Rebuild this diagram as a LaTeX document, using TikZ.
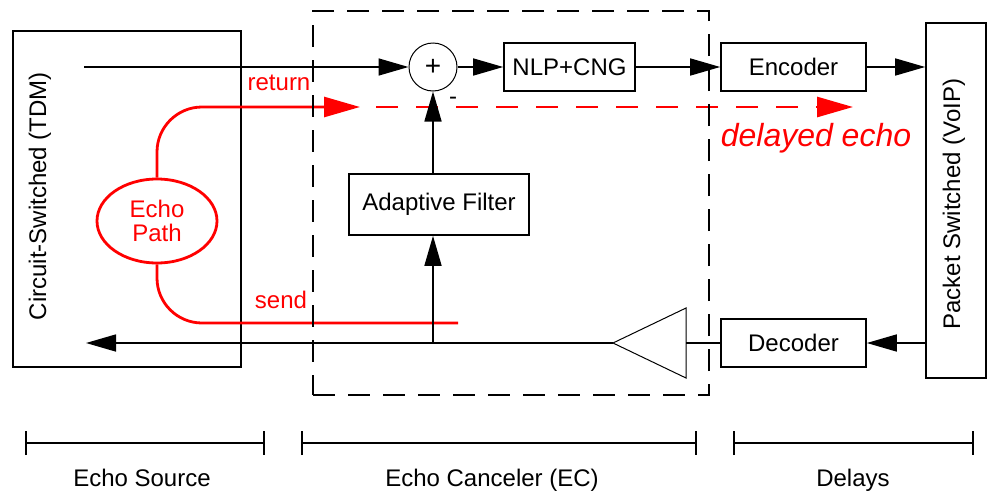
\documentclass[tikz,border=0pt]{standalone}
\usepackage{fontspec}
\setmainfont{Liberation Sans}
\usetikzlibrary{arrows.meta,shapes.geometric}

\tikzset{
  blk/.style={draw,line width=.8pt,inner sep=0pt},
  sig/.style={line width=.8pt},
  arr/.style={sig,-{Triangle[length=15pt,width=8.5pt]}},
  echo/.style={red,line width=1.4pt},
  lbl/.style={font=\fontsize{12}{12}\selectfont}
}

\begin{document}
\begin{tikzpicture}[x=.5pt,y=-.5pt,lbl]
\useasboundingbox (0,0) rectangle (991,493);
% the two networks
\node[blk,minimum width=114pt,minimum height=168pt] (src) at (127,199) {};
\node[rotate=90] (srctxt) at (40,196) {Circuit-Switched (TDM)};
\node[blk,minimum width=30pt,minimum height=177.5pt] (pkt) at (956,200.5) {};
\node[rotate=90] (pkttxt) at (954,204) {Packet Switched (VoIP)};
% echo
\node[draw,echo,ellipse,minimum width=60pt,minimum height=42pt,inner sep=0pt,align=center,text=red] (echo) at (157,221) {Echo\\Path};
\coordinate (ret) at (360,107);
\coordinate (late) at (853,107);
\coordinate (send) at (458,323);
\draw[echo,rounded corners=22.5pt,-{Triangle[length=18pt,width=10pt]}] (echo.north) |- (ret);
\draw[echo,dash pattern=on 11pt off 9pt,-{Triangle[length=18pt,width=10pt]}] ([xshift=8pt]ret) -- (late);
\draw[echo,rounded corners=22.5pt] (echo.south) |- (send);
\node[text=red] (rettxt) at (279,83) {return};
\node[text=red] (sendtxt) at (281,300) {send};
\node[text=red,font=\fontsize{16}{16}\selectfont\itshape] (latetxt) at (816,138) {delayed echo};
% echo canceler
\node[draw,sig,dash pattern=on 11pt off 6.5pt,minimum width=198pt,minimum height=192pt] (ec) at (511,203) {};
\node[draw,circle,line width=.5pt,minimum size=24pt,inner sep=0pt,font=\fontsize{14}{14}\selectfont] (sum) at (433,67) {+};
\node (minus) at (453,101) {-};
\node[blk,minimum width=65.5pt,minimum height=24pt] (nlp) at (569.5,67) {NLP+CNG};
\node[blk,minimum width=90pt,minimum height=30.5pt] (filt) at (439,204.5) {Adaptive Filter};
\node[blk,minimum width=72.5pt,minimum height=24pt] (enc) at (793.5,67) {Encoder};
\node[blk,minimum width=72.5pt,minimum height=24pt] (dec) at (793.5,343) {Decoder};
\draw[line width=.5pt] (686,308) -- (613,343) -- (686,378) -- cycle;
\coordinate (ampin) at (686,343);
\coordinate (ampout) at (613,343);
\coordinate (in) at (84,67);
\coordinate (out) at (86,343);
\coordinate (tap) at (433,343);
% signal paths
\draw[arr] (in) -- (sum.west);
\draw[arr] (sum.east) -- (nlp.west);
\draw[arr] (nlp.east) -- (enc.west);
\draw[arr] (enc.east) -- (enc.east -| pkt.west);
\draw[arr] (pkt.west |- dec) -- (dec.east);
\draw[sig] (dec.west) -- (ampin);
\draw[arr] (ampout) -- (out);
\draw[arr] (tap) -- (tap |- filt.south);
\draw[arr] (filt.north -| sum) -- (sum.south);
% spans
\foreach \a/\b/\c/\t [count=\i] in {25/265/142/Echo Source,301/697/492/Echo Canceler (EC),733/974/853/Delays} {
  \draw[sig,{Bar[width=12pt]}-{Bar[width=12pt]}] (\a,443) -- (\b,443);
  \node[anchor=base] (span\i) at (\c,486) {\t};
}
\end{tikzpicture}
\end{document}
